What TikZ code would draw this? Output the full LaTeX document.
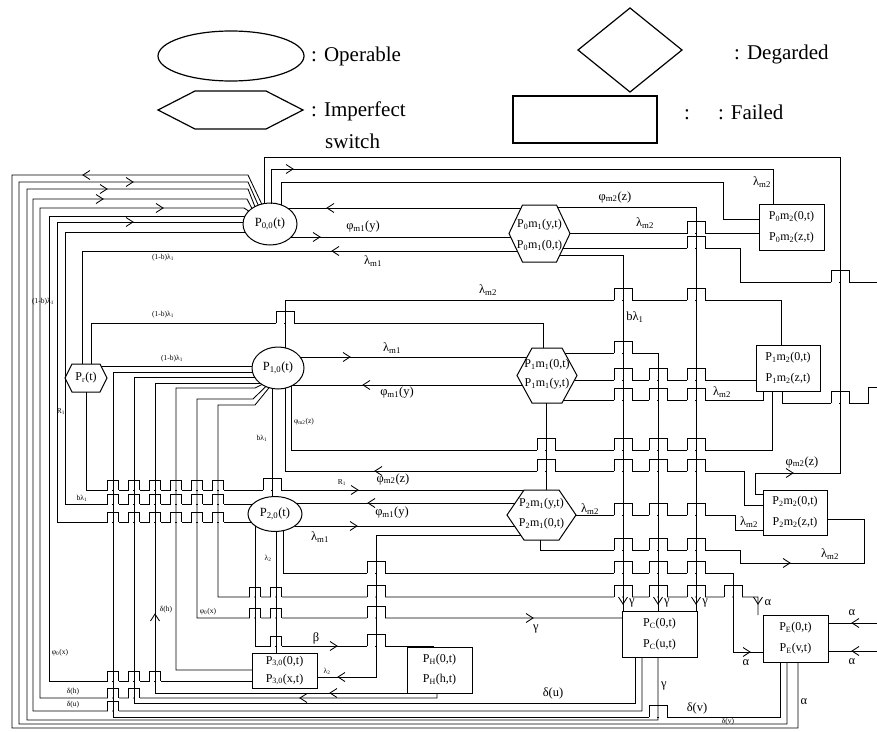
\documentclass[tikz,border=0pt]{standalone}
\usepackage{fontspec}
\setmainfont{Liberation Serif}
\usetikzlibrary{shapes.geometric}
\newcommand{\sbs}[1]{\textsubscript{#1}}
\newcommand{\hexa}[5]{\draw[line width=1pt] ({#1-#3},#2) -- ({#1-#3+#5},{#2-#4}) -- ({#1+#3-#5},{#2-#4}) -- ({#1+#3},#2) -- ({#1+#3-#5},{#2+#4}) -- ({#1-#3+#5},{#2+#4}) -- cycle;}
\tikzset{
  wire/.style={line width=0.85pt},
  hop/.pic={\fill[white] (-9,-1.3) rectangle (-1.1,1.3); \fill[white] (1.1,-1.3) rectangle (9,1.3); \draw[line width=0.85pt] (-9,0.4) -- (-9,-12) -- (9,-12) -- (9,0.4);},
  hops/.pic={\fill[white] (-5.5,-1.3) rectangle (-1.1,1.3); \fill[white] (1.1,-1.3) rectangle (5.5,1.3); \draw[line width=0.85pt] (-5.5,0.4) -- (-5.5,-10) -- (5.5,-10) -- (5.5,0.4);},
  chev/.pic={\draw[line width=0.85pt] (-7,-4.5) -- (0,0) -- (-7,4.5);},
  ell/.style={ellipse, draw, line width=1pt, inner sep=0},
  nt/.style={inner sep=0, align=center, font=\fontsize{12.5}{13}\selectfont},
  bx/.style={draw, line width=1pt, inner sep=0, align=center, font=\fontsize{12}{21}\selectfont},
  lb/.style={inner sep=0, font=\fontsize{12.5}{13}\selectfont},
  sl/.style={inner sep=0, font=\fontsize{7.5}{8}\selectfont},
  lg/.style={inner sep=0, anchor=west, font=\fontsize{21}{22}\selectfont},
}
\begin{document}
\begin{tikzpicture}[x=1pt,y=-1pt]
\useasboundingbox (0,0) rectangle (877,731);
% ---------------- legend
\node[ell, line width=1.2pt, minimum width=146pt, minimum height=50pt] (lgo) at (231,56) {};
\node[lg] (lgot) at (311,56) {: Operable};
\draw[line width=1.2pt] (630,8) -- (682,50) -- (630,92) -- (578,50) -- cycle;
\node[lg] (lgdt) at (734,54) {: Degarded};
\draw[line width=1.2pt] (158,110) -- (195,91) -- (266,91) -- (303,110) -- (266,129) -- (195,129) -- cycle;
\node[lg] (lgit) at (311,111) {: Imperfect};
\node[lg] (lgst) at (325,141) {switch};
\draw[line width=1.2pt] (513,96) rectangle (657,143);
\node[lg] (lgft) at (684,112) {:\hspace{28pt}: Failed};
% ---------------- wires
\draw[wire] (264,203.5) -- (264,157) -- (840,157) -- (840,473) -- (755,473) -- (755,494) -- (763,494);
\draw[wire] (271,203.5) -- (271,169) -- (773,169) -- (773,204);
\draw[wire] (281,205) -- (281,182) -- (723,182) -- (723,219) -- (759,219);
\draw[wire] (287.5,208) -- (521,208);
\draw[wire] (291,237) -- (510.7,237);
\draw[wire] (82,364) -- (82,251) -- (517.3,251);
\draw[wire] (91,364) -- (91,323) -- (543,323) -- (543,348);
\draw[wire] (101,366) -- (252.2,366);
% P00 left bundle
\draw[wire] (261.7,204) -- (248,175) -- (12,175) -- (12,728) -- (798,728) -- (798,662);
\draw[wire] (258.2,205.1) -- (248,182) -- (19,182) -- (19,724) -- (787,724) -- (787,662);
\draw[wire] (254.9,206.6) -- (248,189) -- (27,189) -- (27,720) -- (658,720) -- (658,657);
\draw[wire] (251.9,208.4) -- (247,199) -- (33,199) -- (33,711) -- (642,711) -- (642,657);
\draw[wire] (248.7,211.1) -- (244,208) -- (40,208) -- (40,698) -- (437,698) -- (437,693);
\draw[wire] (245,216) -- (49,216) -- (49,681) -- (252,681);
\draw[wire] (243.1,222) -- (57,222) -- (57,522) -- (251,522);
\draw[wire] (245,232) -- (65,232) -- (65,504) -- (253,504);
% P10 left bundle
\draw[wire] (252.5,372) -- (113,372) -- (113,717) -- (780,717) -- (780,662);
\draw[wire] (254.5,377) -- (134,377) -- (134,703) -- (635,703) -- (635,657);
\draw[wire] (259.8,383) -- (155,383) -- (155,693) -- (407,693);
\draw[wire] (262,384.5) -- (255,388) -- (176,388) -- (176,670) -- (252,670);
\draw[wire] (265.8,386.5) -- (253,399) -- (197,399) -- (197,618) -- (622,618);
\draw[wire] (269.1,387.7) -- (255,405) -- (218,405) -- (218,597) -- (758,597) -- (758,615);
% middle
\draw[wire] (285,347.8) -- (285,300) -- (781,300) -- (781,345);
\draw[wire] (300,357) -- (527,357);
\draw[wire] (293,385) -- (522,385);
\draw[wire] (291,386) -- (291,450) -- (772,450) -- (772,391);
\draw[wire] (285,388) -- (285,471) -- (744,471) -- (744,505) -- (763,505);
\draw[wire] (272,388.5) -- (272,496.6);
\draw[wire] (86,392) -- (86,490) -- (524,490);
\draw[wire] (546,403) -- (546,490);
\draw[wire] (560,255) -- (623,255) -- (623,611);
\draw[wire] (557.4,207) -- (696,207) -- (696,611);
\draw[wire] (570,233.5) -- (759,233.5);
\draw[wire] (563,248) -- (740,248) -- (740,282) -- (877,282);
\draw[wire] (564.7,353) -- (658,353) -- (658,611);
\draw[wire] (574.5,380) -- (756,380);
\draw[wire] (563.6,400) -- (763,400) -- (763,391);
\draw[wire] (782,391) -- (782,403) -- (868,403) -- (868,387) -- (877,387);
\draw[wire] (296,503) -- (515.2,503);
\draw[wire] (294.7,526) -- (514.5,526);
\draw[wire] (520.6,535) -- (376,535) -- (376,677) -- (317,677);
\draw[wire] (255,525.8) -- (255,646) -- (433,646) -- (433,647);
\draw[wire] (276,531.5) -- (276,653);
\draw[wire] (283,530.7) -- (283,573) -- (733,573) -- (733,652) -- (763,652);
\draw[wire] (576,515) -- (735,515) -- (735,530) -- (763,530);
\draw[wire] (540,540) -- (540,550) -- (740,550) -- (740,563) -- (864,563) -- (864,519) -- (827,519);
\draw[wire] (877,623) -- (828,623);
\draw[wire] (877,651) -- (828,651);
% ---------------- hops
\foreach \x in {113,134,155,176,197,218} {\pic at (\x,490) {hops}; \pic at (\x,504) {hops}; \pic at (\x,522) {hops};}
\pic at (272,490) {hop};
\foreach \x in {113,134,155} {\pic at (\x,681) {hops};}
\foreach \x in {113,134} {\pic at (\x,698) {hops};}
\pic at (113,711) {hops};
\pic at (285,323) {hop};
\pic at (623,300) {hop}; \pic at (696,300) {hop};
\pic at (696,233.5) {hop}; \pic at (696,248) {hop}; \pic at (840,282) {hop};
\pic at (623,353) {hop};
\foreach \x in {623,658,696} {\pic at (\x,380) {hop}; \pic at (\x,400) {hop}; \pic at (\x,515) {hop}; \pic at (\x,550) {hop}; \pic at (\x,573) {hop}; \pic at (\x,597) {hop};}
\foreach \x in {546,623,658,696} {\pic at (\x,450) {hop}; \pic at (\x,471) {hop};}
\pic at (840,403) {hop};
\foreach \x in {255,276} {\pic at (\x,597) {hops}; \pic at (\x,618) {hops};}
\pic at (276,646) {hops};
\foreach \y in {573,597,618,646} {\pic at (376,\y) {hop};}
\pic at (733,597) {hop};
\pic at (658,717) {hop};
% ---------------- nodes
\node[ell, minimum width=54pt, minimum height=42pt] (p00) at (270,224) {};
\node[nt] (tp00) at (270,224) {P\sbs{0,0}(t)};
\node[ell, minimum width=52pt, minimum height=42pt] (p10) at (278,368) {};
\node[nt] (tp10) at (278,368) {P\sbs{1,0}(t)};
\node[ell, minimum width=54pt, minimum height=35pt] (p20) at (275,514) {};
\node[nt] (tp20) at (275,514) {P\sbs{2,0}(t)};
\hexa{539.5}{233.5}{30.5}{28.5}{13.5}
\node[nt, font=\fontsize{12}{21}\selectfont] (p0m1) at (539.5,235) {P\sbs{0}m\sbs{1}(y,t)\\P\sbs{0}m\sbs{1}(0,t)};
\hexa{547}{375.5}{30}{27.5}{15}
\node[nt, font=\fontsize{12}{19}\selectfont] (p1m1) at (547,374.5) {P\sbs{1}m\sbs{1}(0,t)\\P\sbs{1}m\sbs{1}(y,t)};
\hexa{541.5}{515}{34.5}{25}{17}
\node[nt, font=\fontsize{12}{20}\selectfont] (p2m1) at (541.5,513.5) {P\sbs{2}m\sbs{1}(y,t)\\P\sbs{2}m\sbs{1}(0,t)};
\hexa{86}{378}{21}{14}{7}
\node[nt, font=\fontsize{12}{13}\selectfont] (pr) at (86,378) {P\sbs{r}(t)};
\node[bx, minimum width=65pt, minimum height=46pt] (p0m2) at (791.5,227) {P\sbs{0}m\sbs{2}(0,t)\\P\sbs{0}m\sbs{2}(z,t)};
\node[bx, minimum width=64pt, minimum height=46pt] (p1m2) at (788,368) {P\sbs{1}m\sbs{2}(0,t)\\P\sbs{1}m\sbs{2}(z,t)};
\node[bx, minimum width=64pt, minimum height=45pt] (p2m2) at (795,512.5) {P\sbs{2}m\sbs{2}(0,t)\\P\sbs{2}m\sbs{2}(z,t)};
\node[bx, minimum width=75pt, minimum height=46pt] (pc) at (659.5,634) {P\sbs{C}(0,t)\\P\sbs{C}(u,t)};
\node[bx, minimum width=65pt, minimum height=47pt] (pe) at (795.5,638.5) {P\sbs{E}(0,t)\\P\sbs{E}(v,t)};
\node[bx, minimum width=65pt, minimum height=35pt, font=\fontsize{12}{18}\selectfont] (p30) at (284.5,670.5) {P\sbs{3,0}(0,t)\\P\sbs{3,0}(x,t)};
\node[bx, minimum width=65pt, minimum height=46pt, font=\fontsize{12}{20}\selectfont] (ph) at (439.5,670) {P\sbs{H}(0,t)\\P\sbs{H}(h,t)};
% ---------------- arrowheads
\pic[rotate=180] at (83,175) {chev};
\pic at (133,182) {chev};
\pic at (107,189) {chev};
\pic at (103,199) {chev};
\pic at (163,208) {chev};
\pic at (133,222) {chev};
\pic at (293,169) {chev};
\pic[rotate=180] at (327,208) {chev};
\pic at (320,237) {chev};
\pic[rotate=180] at (332,251) {chev};
\pic at (350,357) {chev};
\pic[rotate=180] at (363,385) {chev};
\pic[rotate=180] at (375,471) {chev};
\pic at (358,490) {chev};
\pic[rotate=180] at (368,503) {chev};
\pic at (357,526) {chev};
\pic[rotate=180] at (338,677) {chev};
\pic at (337,646) {chev};
\pic at (533,618) {chev};
\pic[rotate=90] at (155,614) {chev};
\pic[rotate=180] at (330,693) {chev};
\pic[rotate=180] at (300,698) {chev};
\pic at (793,473) {chev};
\pic at (790,563) {chev};
\foreach \x in {623,658,696,758} {\pic[rotate=-90] at (\x,604) {chev};}
\pic at (750,652) {chev};
\pic[rotate=180] at (852,623) {chev};
\pic[rotate=180] at (852,651) {chev};
% ---------------- labels
\node[lb] (l1) at (615,197) {φ\sbs{m2}(z)};
\node[lb] (l2) at (762,182) {λ\sbs{m2}};
\node[lb] (l3) at (645,223) {λ\sbs{m2}};
\node[lb] (l4) at (363,227) {φ\sbs{m1}(y)};
\node[lb] (l5) at (373,261) {λ\sbs{m1}};
\node[lb] (l6) at (488,290) {λ\sbs{m2}};
\node[lb] (l7) at (635,317) {bλ\sbs{1}};
\node[lb] (l8) at (392,348) {λ\sbs{m1}};
\node[lb] (l9) at (397,393) {φ\sbs{m1}(y)};
\node[lb] (l10) at (722,392) {λ\sbs{m2}};
\node[lb] (l11) at (802,462) {φ\sbs{m2}(z)};
\node[lb] (l12) at (393,479) {φ\sbs{m2}(z)};
\node[lb] (l13) at (392,513) {φ\sbs{m1}(y)};
\node[lb] (l14) at (590,509) {λ\sbs{m2}};
\node[lb] (l15) at (749,522) {λ\sbs{m2}};
\node[lb] (l16) at (320,537) {λ\sbs{m1}};
\node[lb] (l17) at (830,554) {λ\sbs{m2}};
\node[lb] (l18) at (632,603) {γ};
\node[lb] (l19) at (667,603) {γ};
\node[lb] (l20) at (705,603) {γ};
\node[lb] (l21) at (768,603) {α};
\node[lb] (l22) at (536,629) {γ};
\node[lb] (l23) at (316,638) {β};
\node[lb] (l24) at (746,663) {α};
\node[lb] (l25) at (852,613) {α};
\node[lb] (l26) at (852,662) {α};
\node[lb] (l27) at (553,693) {δ(u)};
\node[lb] (l28) at (664,686) {γ};
\node[lb] (l29) at (804,702) {α};
\node[lb] (l30) at (697,708) {δ(v)};
\node[sl] (s1) at (163,258) {(1-b)λ\sbs{1}};
\node[sl] (s2) at (163,315) {(1-b)λ\sbs{1}};
\node[sl] (s3) at (43,302) {(1-b)λ\sbs{1}};
\node[sl] (s4) at (172,359) {(1-b)λ\sbs{1}};
\node[sl] (s5) at (61,412) {R\sbs{1}};
\node[sl] (s6) at (82,498) {bλ\sbs{1}};
\node[sl] (s7) at (262,438) {bλ\sbs{1}};
\node[sl] (s8) at (304,422) {φ\sbs{m2}(z)};
\node[sl] (s9) at (342,483) {R\sbs{1}};
\node[sl] (s10) at (268,558) {λ\sbs{2}};
\node[sl] (s11) at (166,610) {δ(h)};
\node[sl] (s12) at (208,612) {φ\sbs{0}(x)};
\node[sl] (s13) at (60,653) {φ\sbs{0}(x)};
\node[sl] (s14) at (327,671) {λ\sbs{2}};
\node[sl] (s15) at (73,692) {δ(h)};
\node[sl] (s16) at (73,705) {δ(u)};
\node[sl] (s17) at (728,722) {δ(v)};
\end{tikzpicture}
\end{document}
